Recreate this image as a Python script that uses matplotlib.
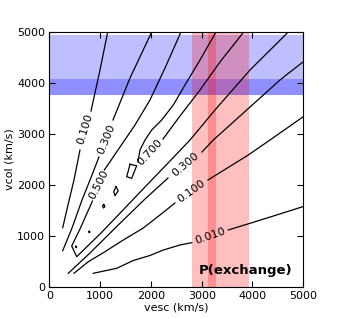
"""P(exchange) contour map in the vesc / vcol plane."""
import numpy as np
import matplotlib
matplotlib.use("Agg")
from matplotlib import pyplot as plt

nan = np.nan

# contour lines (km/s); nan marks the gap under a label
p010_left_x = [264, 368, 486, 604, nan, 821, 998, 1150]
p010_left_y = [1163, 1608, 2098, 2686, nan, 3451, 4255, 5000]

p030_left_x = [264, 447, 644, 841, 978, nan, 1254, 1589, 2016]
p030_left_y = [712, 1157, 1706, 2196, 2549, nan, 3275, 4098, 5000]

p050_x = [2592, 2278, 1982, 1687, 1392, 1083, nan, 850, 762, 604, 441,
          539, 998, 1358, 1884, 2376, 2770, 3262, 3951, 4705]
p050_y = [5000, 4294, 3667, 3176, 2745, 2294, nan, 1686, 1490, 1137, 804,
          594, 1039, 1412, 1961, 2471, 2882, 3471, 4255, 5000]

p070_x = [3281, 2967, 2671, 2441, 2213, 2016, 1884, 1785, 1746, nan,
          2238, 2573, 2967, 3360, 3827]
p070_y = [5000, 4451, 3961, 3569, 3275, 3078, 2882, 2686, 2451, nan,
          2902, 3353, 3863, 4412, 5000]

p030_right_x = [374, 801, 1358, 1884, 2337, nan, 3006, 3228, 3951, 4541, 5000]
p030_right_y = [269, 667, 1216, 1725, 2137, nan, 2647, 2882, 3529, 4059, 4418]

p010_right_x = [486, 768, 1096, 1425, 1850, 2179, 2474, nan,
                3124, 3537, 3917, 4344, 5000]
p010_right_y = [269, 496, 692, 902, 1157, 1412, 1647, nan,
                2098, 2353, 2588, 2882, 3339]

p001_x = [866, 1327, 1654, 1982, 2244, 2573, 2803, nan,
          3524, 3951, 4443, 5000]
p001_y = [269, 367, 520, 618, 725, 824, 869, nan,
          1118, 1249, 1402, 1578]

# small closed islands along the ridge
islands_x = [[1589, 1720, 1622, 1524, 1589],
             [1313, 1358, 1293, 1268, 1313],
             [1071, 1096, 1067, 1047, 1071],
             [787, 800, 787, 774, 787],
             [526, 539, 526, 513, 526]]
islands_y = [[2406, 2378, 2131, 2163, 2406],
             [1967, 1888, 1790, 1869, 1967],
             [1618, 1578, 1549, 1588, 1618],
             [1092, 1078, 1064, 1078, 1092],
             [798, 784, 770, 784, 798]]

# inline labels: text, x, y, rotation
label_text = ["0.100", "0.300", "0.500", "0.700", "0.300", "0.100", "0.010"]
label_x = [703, 1116, 969, 1982, 2671, 2803, 3170]
label_y = [3098, 2902, 2000, 2647, 2392, 1882, 1000]
label_rot = [73, 68, 63, 47, 40, 36, 19]

# observed bands
vcol_band = (3770, 4950)
vcol_core = (3770, 4080)
vesc_band = (2815, 3925)
vesc_core = (3124, 3281)


def main():
    fig = plt.figure(figsize=(3.45, 3.19), dpi=100)
    ax = fig.add_axes([0.1429, 0.1003, 0.7362, 0.7994])

    ax.axhspan(*vcol_band, color="blue", alpha=0.25, lw=0)
    ax.axhspan(*vcol_core, color="blue", alpha=0.25, lw=0)
    ax.axvspan(*vesc_band, color="red", alpha=0.25, lw=0)
    ax.axvspan(*vesc_core, color="red", alpha=0.25, lw=0)

    kw = dict(color="black", lw=0.9)
    for xs, ys in [(p010_left_x, p010_left_y), (p030_left_x, p030_left_y),
                   (p050_x, p050_y), (p070_x, p070_y),
                   (p030_right_x, p030_right_y),
                   (p010_right_x, p010_right_y), (p001_x, p001_y)]:
        ax.plot(xs, ys, **kw)
    for xs, ys in zip(islands_x, islands_y):
        ax.plot(xs, ys, **kw)

    for t, x, y, r in zip(label_text, label_x, label_y, label_rot):
        ax.text(x, y, t, rotation=r, rotation_mode="anchor",
                ha="center", va="center", fontsize=8)

    ax.text(3870, 330, "P(exchange)", fontsize=9.5, fontweight="bold",
            ha="center", va="center")

    ax.set_xlim(0, 5000)
    ax.set_ylim(0, 5000)
    ax.set_xticks(range(0, 5001, 1000))
    ax.set_yticks(range(0, 5001, 1000))
    ax.tick_params(direction="in", top=True, right=True, length=4,
                   labelsize=8, pad=3)
    ax.set_xlabel("vesc (km/s)", fontsize=8, labelpad=1)
    ax.set_ylabel("vcol (km/s)", fontsize=8, labelpad=2)

    fig.savefig("out.png", dpi=100)
    plt.close(fig)


if __name__ == "__main__":
    main()
